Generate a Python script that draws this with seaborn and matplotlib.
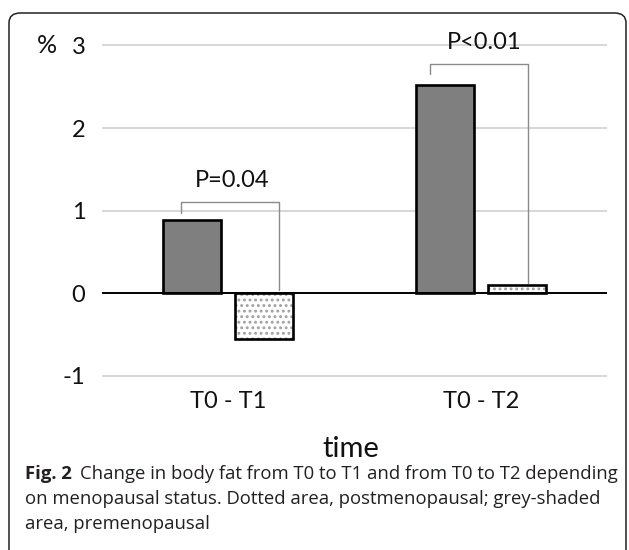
import matplotlib
matplotlib.use("Agg")
import matplotlib.pyplot as plt
from matplotlib.patches import Rectangle, FancyBboxPatch
import matplotlib.transforms as mtransforms
import seaborn as sns
import pandas as pd

# ---- data ----
categories = ["T0 - T1", "T0 - T2"]
statuses = ["premenopausal", "postmenopausal"]
premenopausal = [0.89, 2.52]
postmenopausal = [-0.56, 0.10]
yticks = [-1, 0, 1, 2, 3]
p_labels = ["P=0.04", "P<0.01"]
p_label_y = [1.37, 3.04]
bracket_top = [1.10, 2.77]
bracket_left_end = [0.97, 2.65]
bracket_right_end = [0.035, 0.12]
caption_bold = "Fig. 2"
caption_lines = [
    "Change in body fat from T0 to T1 and from T0 to T2 depending",
    "on menopausal status. Dotted area, postmenopausal; grey-shaded",
    "area, premenopausal",
]

df = pd.DataFrame({
    "time": categories * 2,
    "status": [statuses[0]] * 2 + [statuses[1]] * 2,
    "value": premenopausal + postmenopausal,
})

sns.set_theme(style="white")
plt.rcParams["font.family"] = ["Lato", "DejaVu Sans"]
plt.rcParams["hatch.linewidth"] = 1.3

fig = plt.figure(figsize=(6.29, 5.5), dpi=100)
ax = fig.add_axes([0.1622, 0.3020, 0.8029, 0.6453])

sns.barplot(data=df, x="time", y="value", hue="status", hue_order=statuses,
            palette={statuses[0]: "#7f7f7f", statuses[1]: "white"},
            width=0.57, gap=0.19, edgecolor="black", linewidth=1.9,
            legend=False, ax=ax, zorder=3)

# dotted fill for postmenopausal bars
for bar in ax.containers[1]:
    bar.set_hatch("...")
    bar.set_edgecolor("#a0a0a0")
    bar.set_linewidth(0)
    ax.add_patch(Rectangle((bar.get_x(), bar.get_y()), bar.get_width(), bar.get_height(),
                           fill=False, edgecolor="black", linewidth=1.9, zorder=4))

ax.set_xlim(-0.5, 1.5)
ax.set_ylim(-1.1, 3.2)
ax.set_yticks(yticks)
ax.set_yticklabels([str(t) for t in yticks])
for t in yticks:
    if t == 0:
        ax.axhline(t, color="black", lw=1.4, zorder=5)
    else:
        ax.axhline(t, color="#d4d4d4", lw=1.3, zorder=1)
for s in ax.spines.values():
    s.set_visible(False)
ax.tick_params(axis="both", length=0, labelsize=17, colors="#111111")
ax.tick_params(axis="y", pad=12)
ax.tick_params(axis="x", pad=5)
ax.set_xlabel("")
ax.set_ylabel("")

ax.text(-0.11, 3, "%", transform=mtransforms.blended_transform_factory(ax.transAxes, ax.transData),
        ha="center", va="center", fontsize=18, color="#111111")

# significance brackets
offsets_l = [-0.186, -0.200]
offsets_r = [0.202, 0.188]
for i in range(len(categories)):
    xl = i + offsets_l[i]
    xr = i + offsets_r[i]
    ax.plot([xl, xl, xr, xr],
            [bracket_left_end[i], bracket_top[i], bracket_top[i], bracket_right_end[i]],
            color="#8a8a8a", lw=1.0, zorder=6)
    ax.text(i + 0.015, p_label_y[i], p_labels[i], ha="center", va="center",
            fontsize=17, color="#111111", zorder=7)

# x axis title
fig.text(351 / 629, 1 - 457 / 550, "time", ha="center", va="baseline",
         fontsize=21, color="#111111")

# caption
cap_font = ["Open Sans", "DejaVu Sans"]
fs = 13.3
y0 = 1 - 479 / 550
dy = 25 / 550
t0 = fig.text(25 / 629, y0, caption_bold, ha="left", va="baseline", fontsize=fs,
              fontweight="bold", family=cap_font, color="#231f20")
fig.canvas.draw()
bb = t0.get_window_extent(renderer=fig.canvas.get_renderer())
fig.text((bb.x1 + 8) / 629, y0, caption_lines[0], ha="left", va="baseline",
         fontsize=fs, family=cap_font, color="#231f20")
for k, line in enumerate(caption_lines[1:], start=1):
    fig.text(25 / 629, y0 - k * dy, line, ha="left", va="baseline",
             fontsize=fs, family=cap_font, color="#231f20")

# rounded frame
frame = FancyBboxPatch((9 / 629, -0.1), (626 - 9) / 629, 1 - 13 / 550 + 0.1,
                       boxstyle="round,pad=0,rounding_size=0.018",
                       transform=fig.transFigure, fill=False,
                       edgecolor="#222222", linewidth=1.1, clip_on=False)
fig.patches.append(frame)

fig.savefig("out.png", dpi=100)
